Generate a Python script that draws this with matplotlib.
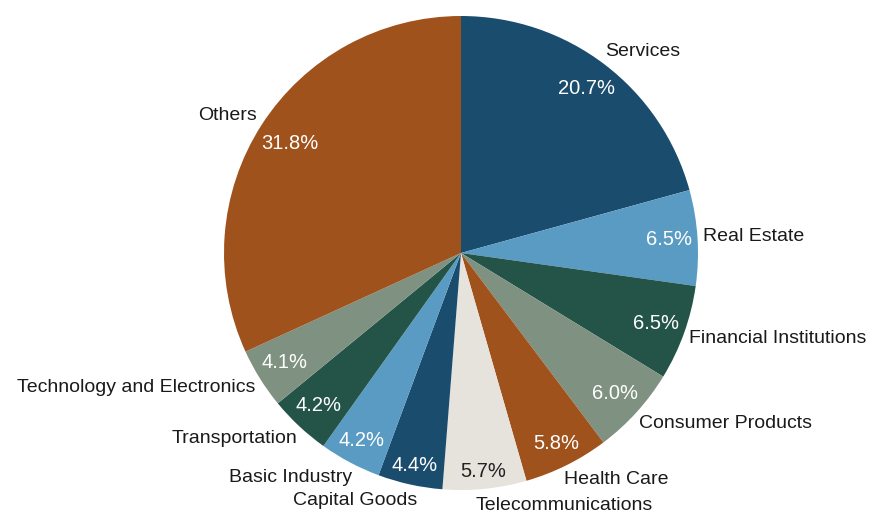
import matplotlib
matplotlib.use('Agg')
import matplotlib.pyplot as plt
import numpy as np

plt.rcParams['font.family'] = ['Liberation Sans', 'DejaVu Sans']

# Sector weights (%)
sectors = ['Services', 'Real Estate', 'Financial Institutions', 'Consumer Products',
           'Health Care', 'Telecommunications', 'Capital Goods', 'Basic Industry',
           'Transportation', 'Technology and Electronics', 'Others']
weights = [20.7, 6.5, 6.5, 6.0, 5.8, 5.7, 4.4, 4.2, 4.2, 4.1, 31.8]

dark_blue = '#1A4C6E'
light_blue = '#5A9BC4'
dark_green = '#245448'
grey_green = '#7F9180'
brown = '#A0521C'
beige = '#E6E2DC'
colors = [dark_blue, light_blue, dark_green, grey_green, brown, beige,
          dark_blue, light_blue, dark_green, grey_green, brown]

W, H = 873, 514
fig = plt.figure(figsize=(W / 100, H / 100), dpi=100)
cx, cy, r = 461, 253, 237
ax = fig.add_axes([(cx - r) / W, (H - cy - r) / H, 2 * r / W, 2 * r / H])

wedges, texts, pcts = ax.pie(weights, labels=sectors, colors=colors,
                             startangle=90, counterclock=False,
                             autopct='%1.1f%%', pctdistance=0.86,
                             labeldistance=1.04,
                             wedgeprops=dict(linewidth=0),
                             textprops=dict(fontsize=14, color='#1a1a1a'))

ax.set_xlim(-1, 1)
ax.set_ylim(-1, 1)
ax.set_aspect('equal')

for p, c in zip(pcts, colors):
    p.set_color('#222222' if c == beige else 'white')
    p.set_fontsize(14.5)

fig.canvas.draw()
renderer = fig.canvas.get_renderer()

for w, lab, p in zip(wedges, texts, pcts):
    ang = np.deg2rad((w.theta1 + w.theta2) / 2)
    ux, uy = np.cos(ang), np.sin(ang)

    # category name just outside the rim; labels near top/bottom pulled
    # slightly toward the middle so neighbours don't collide
    pull = 0.05 * (1 - abs(ux)) ** 1.5
    lab.set_position((1.025 * ux - np.sign(ux) * pull, 1.07 * uy))
    lab.set_ha('left' if ux >= 0 else 'right')
    lab.set_va('center')

    # percentage tucked inside the rim (outer corner of the box on the circle)
    bb = p.get_window_extent(renderer)
    hw, hh = bb.width / 2 / r, bb.height / 2 / r
    dx, dy = np.sign(ux) * hw, np.sign(uy) * hh
    ud = ux * dx + uy * dy
    rho = 0.98
    t = -ud + np.sqrt(ud ** 2 - (dx ** 2 + dy ** 2) + rho ** 2)
    p.set_position((t * ux, t * uy))
    p.set_ha('center')
    p.set_va('center')

fig.savefig('out.png', dpi=100)
